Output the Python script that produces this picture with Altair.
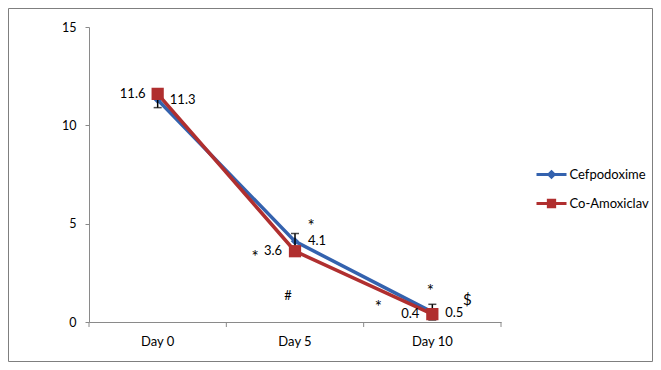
import altair as alt
import pandas as pd

# ---------------- data ----------------
days = ["Day 0", "Day 5", "Day 10"]
series = ["Cefpodoxime", "Co-Amoxiclav"]
cefpodoxime = [11.3, 4.1, 0.5]
co_amoxiclav = [11.6, 3.6, 0.4]
cef_err = [0.4, 0.4, 0.4]
y_ticks = [0, 5, 10, 15]

ann_day = ["Day 0", "Day 0", "Day 5", "Day 5", "Day 5", "Day 5", "Day 5",
           "Day 10", "Day 10", "Day 10", "Day 10", "Day 10"]
ann_value = [11.6, 11.3, 4.85, 4.1, 3.6, 3.25, 1.3, 0.7, 1.55, 0.4, 0.45, 1.1]
ann_text = ["11.6", "11.3", "*", "4.1", "3.6", "*", "#", "*", "*", "0.4", "0.5", "$"]
ann_dx = [-25, 25, 16, 22, -22, -40, -7, -54, -2, -22, 22, 35]

BLUE = "#3462ae"
RED = "#b02f2f"
GRAY = "#8a8a8a"
FONT = "Lato"

rows = []
for i, d in enumerate(days):
    rows.append({"day": d, "series": series[0], "value": cefpodoxime[i],
                 "lo": cefpodoxime[i] - cef_err[i], "hi": cefpodoxime[i] + cef_err[i]})
    rows.append({"day": d, "series": series[1], "value": co_amoxiclav[i],
                 "lo": co_amoxiclav[i], "hi": co_amoxiclav[i]})
df = pd.DataFrame(rows)
ann = pd.DataFrame({"day": ann_day, "value": ann_value, "text": ann_text, "dx": ann_dx})
ticks_df = pd.DataFrame({"day": days})

W, H = 412, 295

xscale = alt.Scale(type="band", domain=days, paddingInner=0, paddingOuter=0)
yscale = alt.Scale(domain=[0, 15], nice=False)

x_axis = alt.Axis(ticks=False, domainColor=GRAY, labelPadding=13, labelFont=FONT,
                  labelFontSize=13, labelColor="#000000", labelAngle=0)
y_axis = alt.Axis(values=y_ticks, grid=False, domainColor=GRAY, tickColor=GRAY,
                  tickSize=4, labelPadding=9, labelFont=FONT, labelFontSize=12.5,
                  labelColor="#000000")


def X(bp=0.5):
    return alt.X("day:N", sort=days, scale=xscale, bandPosition=bp, axis=x_axis, title=None)


def Yf(field="value"):
    return alt.Y(field + ":Q", scale=yscale, axis=y_axis, title=None)


base = alt.Chart(df)
cef = base.transform_filter(alt.datum.series == series[0])
amx = base.transform_filter(alt.datum.series == series[1])

blue_line = cef.mark_line(color=BLUE, strokeWidth=3.5).encode(x=X(), y=Yf())
red_line = amx.mark_line(color=RED, strokeWidth=3.5).encode(x=X(), y=Yf())
blue_pts = cef.mark_point(shape="diamond", filled=True, color=BLUE, size=70, opacity=1).encode(x=X(), y=Yf())
err_rule = cef.mark_rule(color="#000000", strokeWidth=1.5).encode(x=X(), y=Yf("lo"), y2="hi:Q")
err_lo = cef.mark_tick(color="#000000", size=8, thickness=1.5).encode(x=X(), y=Yf("lo"))
err_hi = cef.mark_tick(color="#000000", size=8, thickness=1.5).encode(x=X(), y=Yf("hi"))
red_pts = amx.mark_square(color=RED, size=150, opacity=1).encode(x=X(), y=Yf())

# category-boundary ticks on the x axis
tick_a = alt.Chart(ticks_df).mark_rule(color=GRAY).encode(
    x=X(bp=0), y=alt.value(H), y2=alt.value(H + 5))
tick_b = alt.Chart(ticks_df).transform_filter(alt.datum.day == days[-1]).mark_rule(color=GRAY).encode(
    x=X(bp=1), y=alt.value(H), y2=alt.value(H + 5))

text_layers = []
for off in sorted(set(ann_dx)):
    for sym, fs in (("*", 17), ("$", 15), ("other", 13)):
        if sym == "other":
            cond = (alt.datum.dx == off) & (alt.datum.text != "*") & (alt.datum.text != "$")
        else:
            cond = (alt.datum.dx == off) & (alt.datum.text == sym)
        text_layers.append(
            alt.Chart(ann).transform_filter(cond).mark_text(
                font=FONT, fontSize=fs, color="#000000", baseline="middle", dx=off).encode(
                x=X(), y=Yf(), text="text:N"))

# legend (an invisible layer drives it)
blue_sym = "M-2,0H2M0,-0.36L0.36,0L0,0.36L-0.36,0Z"
red_sym = "M-2,0H2M-0.42,-0.42H0.42V0.42H-0.42Z"
legend = alt.Legend(orient="none", legendX=453.5, legendY=138.5, title=None, padding=0,
                    symbolSize=225, symbolStrokeWidth=3, symbolOpacity=1, labelOffset=9,
                    rowPadding=10, labelFont=FONT, labelFontSize=13, labelColor="#000000")
legend_layer = base.mark_point(filled=True, opacity=0).encode(
    x=X(), y=Yf(),
    fill=alt.Fill("series:N", scale=alt.Scale(domain=series, range=[BLUE, RED]), legend=legend),
    stroke=alt.Stroke("series:N", scale=alt.Scale(domain=series, range=[BLUE, RED]), legend=legend),
    shape=alt.Shape("series:N", scale=alt.Scale(domain=series, range=[blue_sym, red_sym]), legend=legend),
)

border = alt.Chart(pd.DataFrame({"a": [0]})).mark_rect(fill=None, stroke="#7f7f7f", strokeWidth=1).encode(
    x=alt.value(-80.5), x2=alt.value(W + 151.5), y=alt.value(-18.5), y2=alt.value(H + 39.5))

chart = alt.layer(
    border, blue_line, red_line, blue_pts, err_rule, err_lo, err_hi, red_pts,
    tick_a, tick_b, legend_layer, *text_layers
).properties(
    width=W, height=H,
    autosize=alt.AutoSizeParams(type="none"),
    padding={"left": 81, "top": 19, "right": 152, "bottom": 40},
    background="#ffffff",
).configure_view(stroke=None)

chart.save("out.html", embed_options={"renderer": "svg", "actions": False})
